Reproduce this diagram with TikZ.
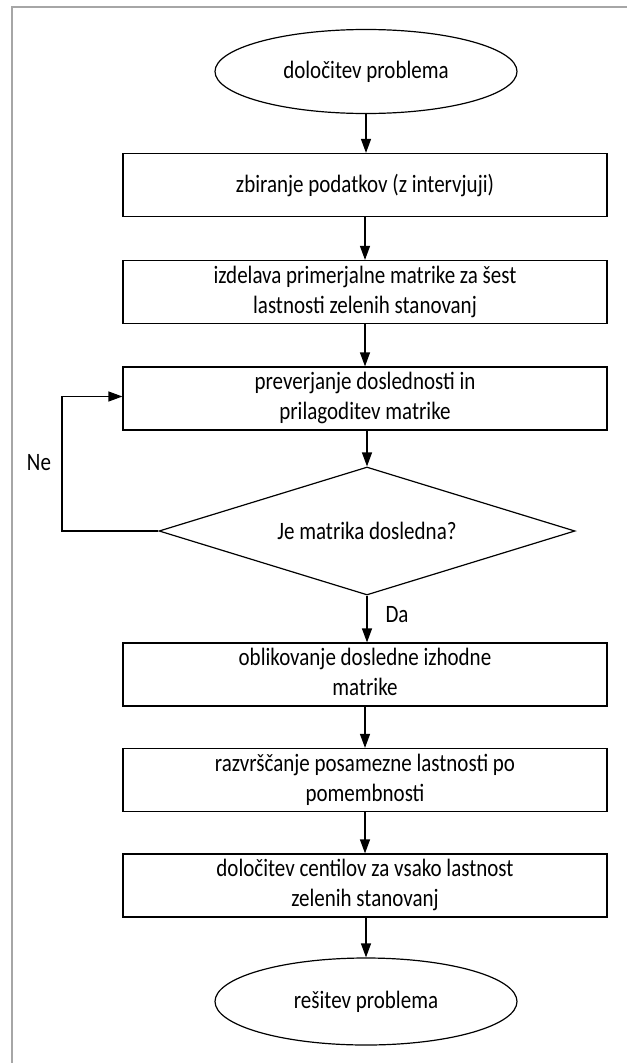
\documentclass[tikz,border=0pt]{standalone}
\usepackage{fontspec}
\setmainfont{Carlito}
\usetikzlibrary{shapes.geometric,arrows.meta}
\newcommand{\sqz}[1]{\scalebox{0.84}[1]{#1}}
\newcommand{\twol}[2]{\sqz{\begin{tabular}{@{}c@{}}#1\\#2\end{tabular}}}
\definecolor{framegray}{HTML}{A6A6A6}
\begin{document}
\begin{tikzpicture}[x=1pt,y=-1pt,
  every node/.style={font=\fontsize{25}{30}\selectfont},
  stepbox/.style={draw, line width=1.2pt, minimum width=484pt, minimum height=63pt, inner sep=0pt},
  termnode/.style={draw, ellipse, line width=1.2pt, minimum width=302pt, minimum height=84pt, inner sep=0pt},
  decnode/.style={draw, diamond, shape aspect=3.25, line width=1.2pt, minimum width=416pt, minimum height=128pt, inner sep=0pt},
  arr/.style={-{Triangle[width=10pt,length=14pt]}, line width=1.2pt},
  lbl/.style={inner sep=0pt}
]
\useasboundingbox (0,0) rectangle (627,1063);
\draw[framegray, line width=2pt] (12,1063) -- (12,7) -- (627,7);

\node[termnode] (e1) at (366,71.5) {\sqz{določitev problema}};
\node[stepbox] (b1) at (365,185) {\sqz{zbiranje podatkov (z intervjuji)}};
\node[stepbox] (b2) at (365,292) {\twol{izdelava primerjalne matrike za šest}{lastnosti zelenih stanovanj}};
\node[stepbox] (b3) at (365,398.5) {\twol{preverjanje doslednosti in}{prilagoditev matrike}};
\node[decnode] (d) at (367,531) {\sqz{Je matrika dosledna?}};
\node[stepbox] (b4) at (365,674.5) {\twol{oblikovanje dosledne izhodne}{matrike}};
\node[stepbox] (b5) at (365,780) {\twol{razvrščanje posamezne lastnosti po}{pomembnosti}};
\node[stepbox] (b6) at (365,885.5) {\twol{določitev centilov za vsako lastnost}{zelenih stanovanj}};
\node[termnode, minimum height=87pt] (e2) at (366,1001.5) {\sqz{rešitev problema}};

\draw[arr] (e1.south) -- (e1.south |- b1.north);
\draw[arr] (b1.south) -- (b2.north);
\draw[arr] (b2.south) -- (b3.north);
\draw[arr] (d.north |- b3.south) -- (d.north);
\draw[arr] (d.south) -- (d.south |- b4.north);
\draw[arr] (b4.south) -- (b5.north);
\draw[arr] (b5.south) -- (b6.north);
\draw[arr] (e2.north |- b6.south) -- (e2.north);

\coordinate (lp) at (62,531);
\draw[arr] (d.west) -- (lp) |- ([yshift=2pt]b3.west);

\node[lbl] (ne) at (39,463) {\sqz{Ne}};
\node[lbl] (da) at (397,615) {\sqz{Da}};
\end{tikzpicture}
\end{document}
